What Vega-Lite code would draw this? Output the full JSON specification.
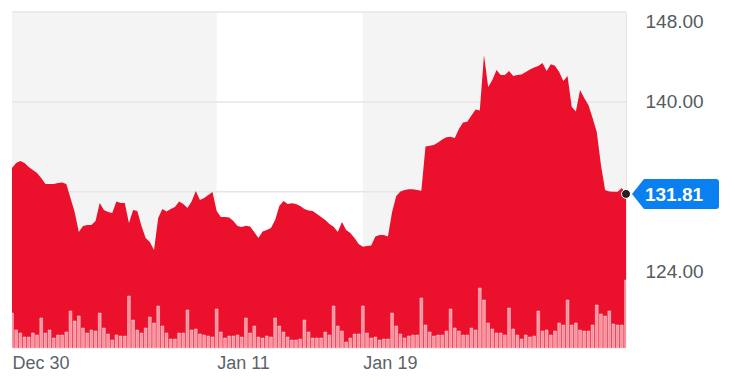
{
  "$schema": "https://vega.github.io/schema/vega-lite/v6.json",
  "width": 614,
  "height": 336,
  "autosize": {"type": "none"},
  "padding": {"left": 12, "top": 12, "right": 109, "bottom": 35},
  "background": "#ffffff",
  "config": {"view": {"stroke": null}, "font": "Liberation Sans"},
  "datasets": {
    "bands": [
      {"start": 0, "end": 49, "shade": "grey"},
      {"start": 84, "end": 147, "shade": "grey"}
    ],
    "grid": [{"level": 124}, {"level": 132}, {"level": 140}, {"level": 148}],
    "last": [{"i": 147, "p": 131.81, "label": "131.81"}],
    "prices": [
      {"i":0,"p":134.12,"v":17.5},{"i":1,"p":134.56,"v":9},{"i":2,"p":134.74,"v":7.5},{"i":3,"p":134.56,"v":5.5},{"i":4,"p":134.21,"v":5.5},{"i":5,"p":133.94,"v":7.5},{"i":6,"p":133.67,"v":6.5},
      {"i":7,"p":133.23,"v":15},{"i":8,"p":132.69,"v":7.5},{"i":9,"p":132.69,"v":9},{"i":10,"p":132.69,"v":5},{"i":11,"p":132.78,"v":6.5},{"i":12,"p":132.83,"v":6.5},{"i":13,"p":132.69,"v":8},
      {"i":14,"p":131.45,"v":18.5},{"i":15,"p":130.2,"v":13.5},{"i":16,"p":128.42,"v":16},{"i":17,"p":128.96,"v":10},{"i":18,"p":129.04,"v":7.5},{"i":19,"p":129.04,"v":9},{"i":20,"p":129.4,"v":8.5},
      {"i":21,"p":131.0,"v":17.5},{"i":22,"p":130.38,"v":10},{"i":23,"p":130.2,"v":7},{"i":24,"p":130.11,"v":4},{"i":25,"p":131.14,"v":6.5},{"i":26,"p":131.0,"v":6},{"i":27,"p":131.0,"v":6},
      {"i":28,"p":129.22,"v":26},{"i":29,"p":130.38,"v":14},{"i":30,"p":130.29,"v":9},{"i":31,"p":128.96,"v":7.5},{"i":32,"p":127.89,"v":10},{"i":33,"p":127.53,"v":15.5},{"i":34,"p":126.82,"v":12.5},
      {"i":35,"p":129.67,"v":21},{"i":36,"p":130.47,"v":11},{"i":37,"p":130.25,"v":7.5},{"i":38,"p":130.47,"v":4.5},{"i":39,"p":130.65,"v":4.5},{"i":40,"p":131.14,"v":7.5},{"i":41,"p":130.91,"v":7.5},
      {"i":42,"p":130.56,"v":19},{"i":43,"p":131.14,"v":9},{"i":44,"p":132.07,"v":9.5},{"i":45,"p":131.27,"v":7},{"i":46,"p":131.45,"v":6.5},{"i":47,"p":131.71,"v":6},{"i":48,"p":131.98,"v":5.5},
      {"i":49,"p":130.29,"v":19.5},{"i":50,"p":129.76,"v":8},{"i":51,"p":129.76,"v":5},{"i":52,"p":129.71,"v":6},{"i":53,"p":129.4,"v":6},{"i":54,"p":128.96,"v":6.5},{"i":55,"p":128.87,"v":5.5},
      {"i":56,"p":128.98,"v":15},{"i":57,"p":128.91,"v":7.5},{"i":58,"p":128.42,"v":11},{"i":59,"p":127.89,"v":5.5},{"i":60,"p":128.47,"v":5},{"i":61,"p":128.6,"v":6},{"i":62,"p":128.78,"v":5.5},
      {"i":63,"p":129.49,"v":15},{"i":64,"p":130.74,"v":11},{"i":65,"p":131.18,"v":8},{"i":66,"p":130.91,"v":5.5},{"i":67,"p":130.98,"v":4},{"i":68,"p":130.91,"v":4},{"i":69,"p":130.74,"v":4.5},
      {"i":70,"p":130.47,"v":14},{"i":71,"p":130.34,"v":8},{"i":72,"p":130.29,"v":5},{"i":73,"p":130.02,"v":5},{"i":74,"p":129.76,"v":5},{"i":75,"p":129.49,"v":8},{"i":76,"p":129.13,"v":6.5},
      {"i":77,"p":128.89,"v":21},{"i":78,"p":128.42,"v":11},{"i":79,"p":129.31,"v":8.5},{"i":80,"p":128.6,"v":3},{"i":81,"p":128.33,"v":5},{"i":82,"p":127.89,"v":7},{"i":83,"p":127.35,"v":7},
      {"i":84,"p":127.11,"v":21},{"i":85,"p":127.18,"v":7.5},{"i":86,"p":127.22,"v":5},{"i":87,"p":128.02,"v":5.5},{"i":88,"p":128.16,"v":4},{"i":89,"p":128.16,"v":4.5},{"i":90,"p":128.02,"v":4.5},
      {"i":91,"p":130.2,"v":17.5},{"i":92,"p":131.63,"v":11},{"i":93,"p":132.03,"v":7},{"i":94,"p":132.16,"v":5},{"i":95,"p":132.22,"v":6},{"i":96,"p":132.22,"v":6.5},{"i":97,"p":132.16,"v":6.5},
      {"i":98,"p":132.1,"v":25},{"i":99,"p":136.03,"v":11.5},{"i":100,"p":136.09,"v":8},{"i":101,"p":136.16,"v":6},{"i":102,"p":136.39,"v":6.5},{"i":103,"p":136.65,"v":6.5},{"i":104,"p":136.85,"v":8.5},
      {"i":105,"p":136.9,"v":19.5},{"i":106,"p":136.79,"v":10},{"i":107,"p":137.59,"v":8.5},{"i":108,"p":138.17,"v":6.5},{"i":109,"p":138.24,"v":6.5},{"i":110,"p":138.79,"v":10},{"i":111,"p":139.32,"v":9},
      {"i":112,"p":139.23,"v":30},{"i":113,"p":144.17,"v":24},{"i":114,"p":141.33,"v":12.5},{"i":115,"p":141.95,"v":9.5},{"i":116,"p":142.84,"v":7.5},{"i":117,"p":142.39,"v":7.5},{"i":118,"p":142.39,"v":6.5},
      {"i":119,"p":142.75,"v":20},{"i":120,"p":142.3,"v":9.5},{"i":121,"p":142.39,"v":6.5},{"i":122,"p":142.44,"v":4.5},{"i":123,"p":142.66,"v":6.5},{"i":124,"p":142.88,"v":5.5},{"i":125,"p":143.06,"v":6},
      {"i":126,"p":143.19,"v":18.5},{"i":127,"p":143.46,"v":8.5},{"i":128,"p":142.75,"v":9},{"i":129,"p":143.35,"v":6.5},{"i":130,"p":143.22,"v":8.5},{"i":131,"p":142.66,"v":12.5},{"i":132,"p":141.86,"v":11.5},
      {"i":133,"p":142.3,"v":24},{"i":134,"p":139.57,"v":11.5},{"i":135,"p":139.15,"v":12.5},{"i":136,"p":141.06,"v":9},{"i":137,"p":140.35,"v":8.5},{"i":138,"p":139.72,"v":8.5},{"i":139,"p":138.57,"v":11.5},
      {"i":140,"p":137.32,"v":21.5},{"i":141,"p":134.38,"v":17},{"i":142,"p":132.16,"v":16},{"i":143,"p":132.03,"v":18.5},{"i":144,"p":132.01,"v":12},{"i":145,"p":132.01,"v":11.5},{"i":146,"p":132.34,"v":11.5},
      {"i":147,"p":131.81,"v":34}
    ]
  },
  "resolve": {"scale": {"y": "independent"}},
  "layer": [
    {
      "data": {"name": "bands"},
      "mark": {"type": "rect", "color": "#f4f4f4"},
      "encoding": {
        "x": {
          "field": "start", "type": "quantitative",
          "scale": {"domain": [0, 147], "nice": false, "zero": false, "padding": 0},
          "axis": {
            "values": [0, 49, 84],
            "labelExpr": "datum.value == 0 ? 'Dec 30' : datum.value == 49 ? 'Jan 11' : 'Jan 19'",
            "labelAlign": "left", "labelFlush": false,
            "labelFontSize": 18, "labelColor": "#5b636a", "labelPadding": 6,
            "ticks": false, "grid": false, "domain": true, "domainColor": "#eeeeee",
            "title": null, "zindex": 1
          }
        },
        "x2": {"field": "end"}
      }
    },
    {
      "data": {"name": "grid"},
      "mark": {"type": "rule", "color": "#e6e6e6", "strokeWidth": 1.5},
      "encoding": {
        "y": {"field": "level", "type": "quantitative", "scale": {"domain": [118.1, 148], "nice": false, "zero": false}, "axis": null}
      }
    },
    {
      "data": {"name": "prices"},
      "mark": {"type": "area", "color": "#eb102b", "interpolate": "linear"},
      "encoding": {
        "x": {"field": "i", "type": "quantitative"},
        "y": {
          "field": "p", "type": "quantitative",
          "scale": {"domain": [118.1, 148], "nice": false, "zero": false},
          "axis": {
            "orient": "right",
            "values": [124, 132, 140, 148],
            "labelExpr": "datum.value == 132 ? '' : format(datum.value, '.2f')",
            "labelFontSize": 19, "labelColor": "#555b61", "labelPadding": 19,
            "labelFlush": true,
            "labelOffset": {"condition": {"test": "datum.value == 124", "value": -10}, "value": 0},
            "ticks": false, "grid": false, "domain": true, "domainColor": "#e4e4e4",
            "title": null, "zindex": 0
          }
        },
        "y2": {"datum": 118.1}
      }
    },
    {
      "data": {"name": "prices"},
      "mark": {"type": "bar", "size": 2.8, "fill": "#ffffff", "fillOpacity": 0.55, "stroke": "#ffffff", "strokeOpacity": 0.7, "strokeWidth": 0.6},
      "encoding": {
        "x": {"field": "i", "type": "quantitative"},
        "y": {"field": "v", "type": "quantitative", "scale": {"domain": [0, 168], "nice": false}, "axis": null}
      }
    },
    {
      "data": {"name": "last"},
      "mark": {"type": "point", "shape": "M6,0 L18,-15 L90,-15 Q93,-15 93,-12 L93,12 Q93,15 90,15 L18,15 Z", "size": 4, "filled": true, "color": "#0a80f0", "opacity": 1},
      "encoding": {
        "x": {"field": "i", "type": "quantitative"},
        "y": {"field": "p", "type": "quantitative", "scale": {"domain": [118.1, 148], "nice": false, "zero": false}, "axis": null}
      }
    },
    {
      "data": {"name": "last"},
      "mark": {"type": "point", "shape": "circle", "size": 80, "filled": true, "color": "#222222", "stroke": "#ffffff", "strokeWidth": 1, "opacity": 1},
      "encoding": {
        "x": {"field": "i", "type": "quantitative"},
        "y": {"field": "p", "type": "quantitative", "scale": {"domain": [118.1, 148], "nice": false, "zero": false}, "axis": null}
      }
    },
    {
      "data": {"name": "last"},
      "mark": {"type": "text", "color": "#ffffff", "fontSize": 19, "fontWeight": "bold", "align": "center", "baseline": "middle", "dx": 48, "dy": 1},
      "encoding": {
        "x": {"field": "i", "type": "quantitative"},
        "y": {"field": "p", "type": "quantitative", "scale": {"domain": [118.1, 148], "nice": false, "zero": false}, "axis": null},
        "text": {"field": "label"}
      }
    }
  ]
}
